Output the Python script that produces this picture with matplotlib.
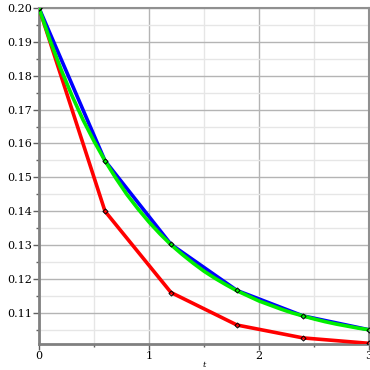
import matplotlib
matplotlib.use("Agg")
import matplotlib.pyplot as plt
from matplotlib.ticker import MultipleLocator, FormatStrFormatter

# exact curve
t_exact = [0.0, 0.1, 0.2, 0.3, 0.4, 0.5, 0.6, 0.7, 0.8, 0.9, 1.0,
           1.1, 1.2, 1.3, 1.4, 1.5, 1.6, 1.7, 1.8, 1.9, 2.0,
           2.1, 2.2, 2.3, 2.4, 2.5, 2.6, 2.7, 2.8, 2.9, 3.0]
y_exact = [0.2, 0.1905, 0.1819, 0.1741, 0.1670, 0.1607, 0.1549, 0.1497, 0.1449, 0.1407, 0.1368,
           0.1333, 0.1301, 0.1273, 0.1247, 0.1223, 0.1202, 0.1183, 0.1165, 0.1150, 0.1135,
           0.1123, 0.1111, 0.1100, 0.1091, 0.1082, 0.1074, 0.1067, 0.1061, 0.1055, 0.1050]

# step-wise approximations, h = 0.6
t_steps = [0.0, 0.6, 1.2, 1.8, 2.4, 3.0]
y_blue = [0.2, 0.1549, 0.1302, 0.1166, 0.1091, 0.1050]
y_red = [0.2, 0.1400, 0.1160, 0.1064, 0.1026, 0.1010]

fig = plt.figure(figsize=(3.7, 3.7), dpi=100)
ax = fig.add_axes([39/370, 26/370, 330/370, 336/370])

ax.plot(t_steps, y_red, color="#ff0000", lw=2.6, zorder=3)
ax.plot(t_steps, y_blue, color="#0000ff", lw=2.6, zorder=3)
ax.plot(t_exact, y_exact, color="#00ee00", lw=2.6, zorder=4)
ax.plot(t_steps, y_blue, ls="none", marker="D", ms=2.6, mfc="none", mec="black", mew=0.7, zorder=5)
ax.plot(t_steps, y_red, ls="none", marker="D", ms=2.6, mfc="none", mec="black", mew=0.7, zorder=5)

ax.set_xlim(0, 3)
ax.set_ylim(0.1008, 0.2)
ax.xaxis.set_major_locator(MultipleLocator(1))
ax.xaxis.set_minor_locator(MultipleLocator(0.5))
ax.yaxis.set_major_locator(MultipleLocator(0.01))
ax.yaxis.set_minor_locator(MultipleLocator(0.005))
ax.yaxis.set_major_formatter(FormatStrFormatter("%.2f"))
ax.xaxis.set_major_formatter(FormatStrFormatter("%d"))

ax.grid(which="major", color="#b4b4b4", lw=1.0)
ax.grid(which="minor", color="#e6e6e6", lw=1.0)
ax.set_axisbelow(True)

for side in ["left", "bottom"]:
    ax.spines[side].set_color("#808080")
    ax.spines[side].set_linewidth(2)
for side in ["top", "right"]:
    ax.spines[side].set_color("#909090")
    ax.spines[side].set_linewidth(1.5)

ax.tick_params(which="major", direction="out", length=4, color="#606060", width=1,
               labelsize=8, pad=1)
ax.tick_params(which="minor", direction="out", length=2, color="#606060", width=1)
for lab in ax.get_xticklabels() + ax.get_yticklabels():
    lab.set_family("DejaVu Serif")

ax.set_xlabel("t", fontsize=6, style="italic", family="DejaVu Serif", labelpad=0)

fig.savefig("out.png", dpi=100)
